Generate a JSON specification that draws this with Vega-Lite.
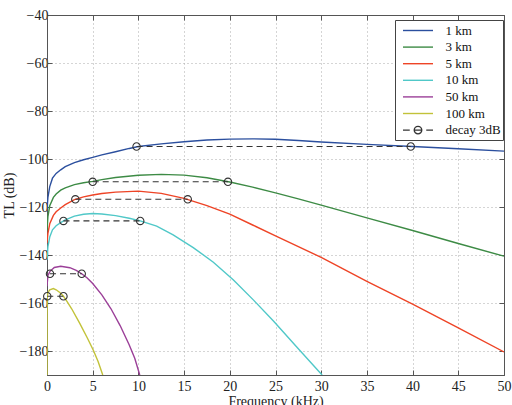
{
  "$schema": "https://vega.github.io/schema/vega-lite/v6.json",
  "width": 457,
  "height": 360,
  "autosize": "none",
  "padding": {"left": 47, "top": 15, "right": 8, "bottom": 30},
  "title": {
    "text": "Volume Attenuation (vol. scattering and absorption), Spreading and Ambient Noise",
    "font": "Liberation Serif",
    "fontSize": 13.8,
    "fontWeight": "normal",
    "color": "#222",
    "anchor": "middle",
    "offset": 9
  },
  "config": {
    "view": {"stroke": "#555", "strokeWidth": 1},
    "axis": {
      "labelFont": "Liberation Serif",
      "labelFontSize": 14,
      "labelColor": "#222",
      "titleFont": "Liberation Serif",
      "titleFontSize": 14,
      "titleFontWeight": "normal",
      "titleColor": "#222",
      "domainColor": "#555",
      "tickColor": "#555",
      "gridColor": "#aaa",
      "gridDash": [1, 3],
      "gridWidth": 1
    }
  },
  "datasets": {
    "curves": [
      {"series": "1 km", "f": 0, "tl": -121},
      {"series": "1 km", "f": 0.1, "tl": -116},
      {"series": "1 km", "f": 0.3, "tl": -111.5},
      {"series": "1 km", "f": 0.6, "tl": -108},
      {"series": "1 km", "f": 1, "tl": -106},
      {"series": "1 km", "f": 1.5, "tl": -104.5},
      {"series": "1 km", "f": 2, "tl": -103.2},
      {"series": "1 km", "f": 3, "tl": -101.5},
      {"series": "1 km", "f": 4, "tl": -100.3},
      {"series": "1 km", "f": 5, "tl": -99.3},
      {"series": "1 km", "f": 6, "tl": -98.3},
      {"series": "1 km", "f": 7.5, "tl": -97},
      {"series": "1 km", "f": 9, "tl": -95.6},
      {"series": "1 km", "f": 10, "tl": -94.8},
      {"series": "1 km", "f": 12.5, "tl": -93.7},
      {"series": "1 km", "f": 15, "tl": -92.8},
      {"series": "1 km", "f": 17.5, "tl": -92.1},
      {"series": "1 km", "f": 20, "tl": -91.7},
      {"series": "1 km", "f": 22.5, "tl": -91.6},
      {"series": "1 km", "f": 25, "tl": -91.8},
      {"series": "1 km", "f": 27.5, "tl": -92.3},
      {"series": "1 km", "f": 30, "tl": -92.9},
      {"series": "1 km", "f": 35, "tl": -93.9},
      {"series": "1 km", "f": 40, "tl": -94.8},
      {"series": "1 km", "f": 45, "tl": -95.7},
      {"series": "1 km", "f": 50, "tl": -96.7},

      {"series": "3 km", "f": 0, "tl": -130},
      {"series": "3 km", "f": 0.1, "tl": -124},
      {"series": "3 km", "f": 0.3, "tl": -119.5},
      {"series": "3 km", "f": 0.7, "tl": -116},
      {"series": "3 km", "f": 1, "tl": -114.6},
      {"series": "3 km", "f": 1.5, "tl": -113},
      {"series": "3 km", "f": 2, "tl": -112},
      {"series": "3 km", "f": 3, "tl": -110.7},
      {"series": "3 km", "f": 4, "tl": -109.9},
      {"series": "3 km", "f": 5, "tl": -109.3},
      {"series": "3 km", "f": 6, "tl": -108.6},
      {"series": "3 km", "f": 7.5, "tl": -107.7},
      {"series": "3 km", "f": 10, "tl": -106.8},
      {"series": "3 km", "f": 12.5, "tl": -106.4},
      {"series": "3 km", "f": 15, "tl": -106.7},
      {"series": "3 km", "f": 17.5, "tl": -107.8},
      {"series": "3 km", "f": 20, "tl": -109.6},
      {"series": "3 km", "f": 22.5, "tl": -111.7},
      {"series": "3 km", "f": 25, "tl": -114.1},
      {"series": "3 km", "f": 27.5, "tl": -116.6},
      {"series": "3 km", "f": 30, "tl": -119.2},
      {"series": "3 km", "f": 35, "tl": -124.5},
      {"series": "3 km", "f": 40, "tl": -129.8},
      {"series": "3 km", "f": 45, "tl": -135.2},
      {"series": "3 km", "f": 50, "tl": -140.5},

      {"series": "5 km", "f": 0, "tl": -135},
      {"series": "5 km", "f": 0.1, "tl": -131},
      {"series": "5 km", "f": 0.3, "tl": -127},
      {"series": "5 km", "f": 0.7, "tl": -123.5},
      {"series": "5 km", "f": 1, "tl": -122},
      {"series": "5 km", "f": 1.5, "tl": -120.4},
      {"series": "5 km", "f": 2, "tl": -119},
      {"series": "5 km", "f": 3, "tl": -116.9},
      {"series": "5 km", "f": 4, "tl": -115.8},
      {"series": "5 km", "f": 5, "tl": -115},
      {"series": "5 km", "f": 6, "tl": -114.4},
      {"series": "5 km", "f": 7.5, "tl": -113.8},
      {"series": "5 km", "f": 10, "tl": -113.4},
      {"series": "5 km", "f": 12.5, "tl": -114.3},
      {"series": "5 km", "f": 15, "tl": -116.4},
      {"series": "5 km", "f": 17.5, "tl": -119.4},
      {"series": "5 km", "f": 20, "tl": -123},
      {"series": "5 km", "f": 22.5, "tl": -127.5},
      {"series": "5 km", "f": 25, "tl": -132},
      {"series": "5 km", "f": 27.5, "tl": -136.5},
      {"series": "5 km", "f": 30, "tl": -141},
      {"series": "5 km", "f": 32.5, "tl": -146},
      {"series": "5 km", "f": 35, "tl": -151},
      {"series": "5 km", "f": 40, "tl": -160.5},
      {"series": "5 km", "f": 45, "tl": -170.4},
      {"series": "5 km", "f": 50, "tl": -180.4},

      {"series": "10 km", "f": 0, "tl": -142},
      {"series": "10 km", "f": 0.1, "tl": -136.5},
      {"series": "10 km", "f": 0.3, "tl": -132.5},
      {"series": "10 km", "f": 0.6, "tl": -129.5},
      {"series": "10 km", "f": 1, "tl": -127.8},
      {"series": "10 km", "f": 1.5, "tl": -126.5},
      {"series": "10 km", "f": 2, "tl": -125.4},
      {"series": "10 km", "f": 3, "tl": -123.8},
      {"series": "10 km", "f": 4, "tl": -123},
      {"series": "10 km", "f": 5, "tl": -122.7},
      {"series": "10 km", "f": 6, "tl": -122.9},
      {"series": "10 km", "f": 7.5, "tl": -123.6},
      {"series": "10 km", "f": 9, "tl": -124.7},
      {"series": "10 km", "f": 10.2, "tl": -125.8},
      {"series": "10 km", "f": 12, "tl": -128},
      {"series": "10 km", "f": 13.8, "tl": -131.6},
      {"series": "10 km", "f": 16, "tl": -136.9},
      {"series": "10 km", "f": 18.2, "tl": -143},
      {"series": "10 km", "f": 20.4, "tl": -150.4},
      {"series": "10 km", "f": 22.6, "tl": -158.8},
      {"series": "10 km", "f": 24.8, "tl": -167.6},
      {"series": "10 km", "f": 27.3, "tl": -178.2},
      {"series": "10 km", "f": 30.1, "tl": -190},

      {"series": "50 km", "f": 0, "tl": -153},
      {"series": "50 km", "f": 0.1, "tl": -148.5},
      {"series": "50 km", "f": 0.33, "tl": -146.8},
      {"series": "50 km", "f": 0.8, "tl": -145.2},
      {"series": "50 km", "f": 1.5, "tl": -144.7},
      {"series": "50 km", "f": 2.5, "tl": -145.3},
      {"series": "50 km", "f": 3.2, "tl": -146.4},
      {"series": "50 km", "f": 3.8, "tl": -147.8},
      {"series": "50 km", "f": 4.4, "tl": -149.6},
      {"series": "50 km", "f": 5, "tl": -151.9},
      {"series": "50 km", "f": 6, "tl": -156.6},
      {"series": "50 km", "f": 7, "tl": -162.4},
      {"series": "50 km", "f": 8, "tl": -169.4},
      {"series": "50 km", "f": 9, "tl": -177.5},
      {"series": "50 km", "f": 9.6, "tl": -183},
      {"series": "50 km", "f": 10.15, "tl": -190},

      {"series": "100 km", "f": 0, "tl": -190},
      {"series": "100 km", "f": 0.01, "tl": -165},
      {"series": "100 km", "f": 0.03, "tl": -157.3},
      {"series": "100 km", "f": 0.1, "tl": -155.6},
      {"series": "100 km", "f": 0.3, "tl": -154.5},
      {"series": "100 km", "f": 0.7, "tl": -154},
      {"series": "100 km", "f": 1, "tl": -154.5},
      {"series": "100 km", "f": 1.4, "tl": -155.6},
      {"series": "100 km", "f": 1.8, "tl": -157.2},
      {"series": "100 km", "f": 2.2, "tl": -159.4},
      {"series": "100 km", "f": 2.7, "tl": -162.4},
      {"series": "100 km", "f": 3.6, "tl": -168.6},
      {"series": "100 km", "f": 4.4, "tl": -174.5},
      {"series": "100 km", "f": 5.07, "tl": -179.7},
      {"series": "100 km", "f": 5.6, "tl": -184.5},
      {"series": "100 km", "f": 6.1, "tl": -190}
    ],
    "decay": [
      {"series": "1 km", "f": 9.8, "tl": -94.8},
      {"series": "1 km", "f": 39.8, "tl": -94.8},
      {"series": "3 km", "f": 5.0, "tl": -109.5},
      {"series": "3 km", "f": 19.8, "tl": -109.5},
      {"series": "5 km", "f": 3.1, "tl": -116.8},
      {"series": "5 km", "f": 15.4, "tl": -116.8},
      {"series": "10 km", "f": 1.8, "tl": -125.8},
      {"series": "10 km", "f": 10.2, "tl": -125.8},
      {"series": "50 km", "f": 0.33, "tl": -147.8},
      {"series": "50 km", "f": 3.8, "tl": -147.8},
      {"series": "100 km", "f": 0.03, "tl": -157.2},
      {"series": "100 km", "f": 1.8, "tl": -157.2}
    ]
  },
  "resolve": {"axis": {"x": "independent", "y": "independent"}},
  "layer": [
    {
      "data": {"name": "curves"},
      "mark": {"type": "line", "strokeWidth": 1.4, "clip": true},
      "encoding": {
        "x": {
          "field": "f", "type": "quantitative",
          "scale": {"domain": [0, 50], "nice": false},
          "axis": {"values": [0,5,10,15,20,25,30,35,40,45,50], "grid": true, "tickSize": -5, "labelPadding": 9, "title": "Frequency (kHz)", "titlePadding": 1, "labelFlush": false}
        },
        "y": {
          "field": "tl", "type": "quantitative",
          "scale": {"domain": [-190, -40], "nice": false, "zero": false},
          "axis": {"values": [-180,-160,-140,-120,-100,-80,-60,-40], "grid": true, "tickSize": -5, "labelPadding": 4, "title": "TL (dB)", "titlePadding": 3}
        },
        "color": {
          "field": "series", "type": "nominal",
          "scale": {
            "domain": ["1 km", "3 km", "5 km", "10 km", "50 km", "100 km", "decay 3dB"],
            "range": ["#2b4f9e", "#3d8b45", "#ee4426", "#50c8c8", "#9b3f98", "#c2c239", "#333333"]
          },
          "legend": {
            "orient": "none", "legendX": 348, "legendY": 5,
            "title": null,
            "symbolType": "M-2,0H2", "symbolSize": 225, "symbolStrokeWidth": 1.4,
            "labelFont": "Liberation Serif", "labelFontSize": 13, "labelColor": "#111",
            "fillColor": "white", "strokeColor": "#444",
            "padding": 2, "rowPadding": 0.6, "labelOffset": 19, "symbolOffset": 12.5,
            "encode": {
              "symbols": {
                "update": {
                  "shape": {"signal": "datum.value === 'decay 3dB' ? 'M-2,0H-1.1M-0.5,0H0.5M-0.5,0A0.5,0.5,0,1,1,0.5,0A0.5,0.5,0,1,1,-0.5,0M1.1,0H2' : 'M-2,0H2'"},
                  "fill": {"value": "transparent"}
                }
              }
            }
          }
        }
      }
    },
    {
      "data": {"name": "decay"},
      "mark": {"type": "line", "strokeWidth": 1.1, "strokeDash": [6, 4]},
      "encoding": {
        "x": {"field": "f", "type": "quantitative", "axis": {"orient": "top", "labels": false, "grid": false, "title": null, "tickSize": -5, "values": [0,5,10,15,20,25,30,35,40,45,50]}},
        "y": {"field": "tl", "type": "quantitative", "axis": {"orient": "right", "labels": false, "grid": false, "title": null, "tickSize": -5, "values": [-180,-160,-140,-120,-100,-80,-60,-40]}},
        "detail": {"field": "series", "type": "nominal"},
        "color": {"datum": "decay 3dB"}
      }
    },
    {
      "data": {"name": "decay"},
      "mark": {"type": "point", "shape": "circle", "filled": false, "size": 55, "strokeWidth": 1.1, "opacity": 1},
      "encoding": {
        "x": {"field": "f", "type": "quantitative", "axis": null},
        "y": {"field": "tl", "type": "quantitative", "axis": null},
        "color": {"datum": "decay 3dB"}
      }
    }
  ]
}
